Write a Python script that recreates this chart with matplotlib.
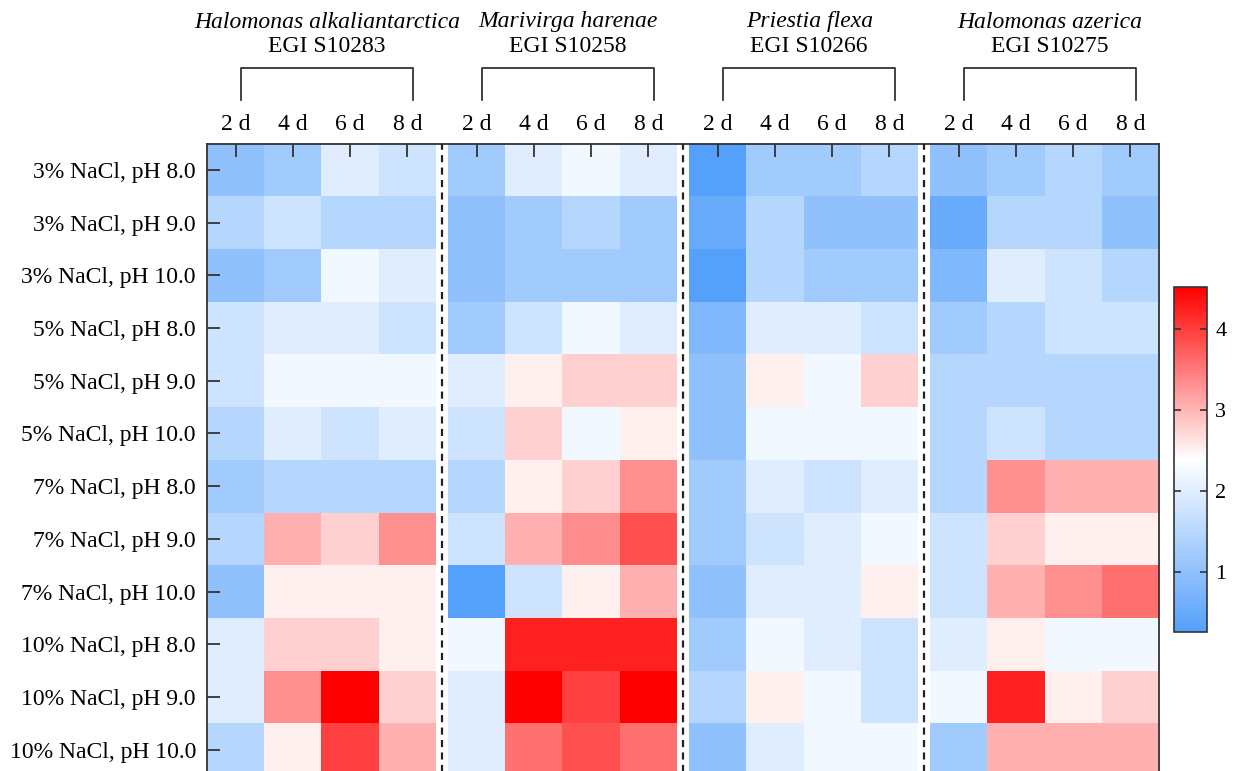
import numpy as np
import matplotlib
matplotlib.use("Agg")
import matplotlib.pyplot as plt
from matplotlib.colors import LinearSegmentedColormap
from matplotlib.transforms import blended_transform_factory
from matplotlib.lines import Line2D

plt.rcParams['font.family'] = ['Liberation Serif', 'DejaVu Serif']

conditions = ["3% NaCl, pH 8.0", "3% NaCl, pH 9.0", "3% NaCl, pH 10.0",
              "5% NaCl, pH 8.0", "5% NaCl, pH 9.0", "5% NaCl, pH 10.0",
              "7% NaCl, pH 8.0", "7% NaCl, pH 9.0", "7% NaCl, pH 10.0",
              "10% NaCl, pH 8.0", "10% NaCl, pH 9.0", "10% NaCl, pH 10.0"]
days = ["2 d", "4 d", "6 d", "8 d"]
species = ["Halomonas alkaliantarctica", "Marivirga harenae", "Priestia flexa", "Halomonas azerica"]
strains = ["EGI S10283", "EGI S10258", "EGI S10266", "EGI S10275"]

h_alkaliantarctica = [
    [1.00, 1.24, 2.00, 1.76],
    [1.47, 1.76, 1.47, 1.47],
    [1.00, 1.24, 2.24, 2.00],
    [1.76, 2.00, 2.00, 1.76],
    [1.76, 2.24, 2.24, 2.24],
    [1.47, 2.00, 1.76, 2.00],
    [1.24, 1.47, 1.47, 1.47],
    [1.47, 3.05, 2.78, 3.32],
    [1.00, 2.52, 2.52, 2.52],
    [2.00, 2.78, 2.78, 2.52],
    [2.00, 3.32, 4.52, 2.78],
    [1.47, 2.52, 3.98, 3.05],
]
m_harenae = [
    [1.24, 2.00, 2.24, 2.00],
    [1.00, 1.24, 1.47, 1.24],
    [1.00, 1.24, 1.24, 1.24],
    [1.24, 1.76, 2.24, 2.00],
    [2.00, 2.52, 2.78, 2.78],
    [1.76, 2.78, 2.24, 2.52],
    [1.47, 2.52, 2.78, 3.32],
    [1.76, 3.05, 3.35, 3.85],
    [0.26, 1.76, 2.52, 3.05],
    [2.24, 4.25, 4.25, 4.25],
    [2.00, 4.52, 3.98, 4.52],
    [2.00, 3.58, 3.85, 3.58],
]
p_flexa = [
    [0.26, 1.24, 1.24, 1.47],
    [0.52, 1.47, 1.00, 1.00],
    [0.26, 1.47, 1.24, 1.24],
    [0.80, 2.00, 2.00, 1.76],
    [1.00, 2.52, 2.24, 2.78],
    [1.00, 2.24, 2.24, 2.24],
    [1.24, 2.00, 1.76, 2.00],
    [1.24, 1.76, 2.00, 2.24],
    [1.00, 2.00, 2.00, 2.52],
    [1.24, 2.24, 2.00, 1.76],
    [1.47, 2.52, 2.24, 1.76],
    [1.00, 2.00, 2.24, 2.24],
]
h_azerica = [
    [1.00, 1.24, 1.47, 1.24],
    [0.52, 1.47, 1.47, 1.00],
    [0.80, 2.00, 1.76, 1.47],
    [1.24, 1.47, 1.76, 1.76],
    [1.47, 1.47, 1.47, 1.47],
    [1.47, 1.76, 1.47, 1.47],
    [1.47, 3.32, 3.05, 3.05],
    [1.76, 2.78, 2.52, 2.52],
    [1.76, 3.05, 3.32, 3.58],
    [2.00, 2.52, 2.24, 2.24],
    [2.24, 4.25, 2.52, 2.78],
    [1.24, 3.05, 3.05, 3.05],
]
groups = [h_alkaliantarctica, m_harenae, p_flexa, h_azerica]
vmin, vmax = 0.26, 4.52
cbar_ticks = [1, 2, 3, 4]

W, H, DPI = 1236, 771, 100
fig = plt.figure(figsize=(W / DPI, H / DPI), dpi=DPI)

ax_l, ax_r, ax_t, ax_b = 207, 1159, 143.6, 776
ax = fig.add_axes([ax_l / W, 1 - ax_b / H, (ax_r - ax_l) / W, (ax_b - ax_t) / H])

cmap = LinearSegmentedColormap.from_list("bwr_custom", ["#55a0fb", "#ffffff", "#ff0000"], N=256)

gap = 0.21
ncol = len(days)
nrow = len(conditions)
xticks = []
starts = []
mesh = None
for g, vals in enumerate(groups):
    x0 = g * (ncol + gap)
    starts.append(x0)
    xe = x0 + np.arange(ncol + 1)
    ye = np.arange(nrow + 1)
    mesh = ax.pcolormesh(xe, ye, np.array(vals), cmap=cmap, vmin=vmin, vmax=vmax,
                         shading='flat', edgecolors='none', antialiased=False)
    xticks.extend(list(x0 + np.arange(ncol) + 0.5))

total = len(groups) * ncol + (len(groups) - 1) * gap
ax.set_xlim(0, total)
ax.set_ylim(nrow, 0)

for g in range(1, len(groups)):
    xc = starts[g] - gap / 2
    ax.axvline(xc, color='#222222', lw=1.6, linestyle=(0, (3.2, 2.4)), zorder=3)

FS = 17
ax.xaxis.tick_top()
ax.set_xticks(xticks)
ax.set_xticklabels(days * len(groups), fontsize=FS)
ax.set_yticks(np.arange(nrow) + 0.5)
ax.set_yticklabels(conditions, fontsize=FS)
ax.tick_params(axis='x', direction='in', length=9, width=1.3, color='#333333', pad=6)
ax.tick_params(axis='y', direction='in', length=9, width=1.3, color='#333333', pad=8)
for s in ax.spines.values():
    s.set_color('#333333')
    s.set_linewidth(1.3)

trans = blended_transform_factory(ax.transData, fig.transFigure)
y_title = 1 - 22 / H
y_strain = 1 - 47 / H
y_br = 1 - 68 / H
y_leg = 1 - 100 / H
for g in range(len(groups)):
    xa = starts[g] + 0.5 + 0.1
    xb = starts[g] + ncol - 0.5 + 0.1
    xm = (xa + xb) / 2
    ax.text(xm, y_title, species[g], transform=trans, ha='center', va='center',
            fontsize=FS, style='italic')
    ax.text(xm, y_strain, strains[g], transform=trans, ha='center', va='center',
            fontsize=FS)
    ln = Line2D([xa, xa, xb, xb], [y_leg, y_br, y_br, y_leg], transform=trans,
                color='#333333', lw=1.3, clip_on=False)
    ax.add_line(ln)

cax = fig.add_axes([1174 / W, 1 - 632 / H, 33 / W, 345 / H])
cb = fig.colorbar(mesh, cax=cax, ticks=cbar_ticks)
cb.outline.set_edgecolor('#333333')
cb.outline.set_linewidth(1.2)
cax.tick_params(direction='in', length=5, width=1.2, color='#333333', labelsize=16,
                left=True, right=True, pad=6)

fig.savefig("out.png", dpi=DPI)
